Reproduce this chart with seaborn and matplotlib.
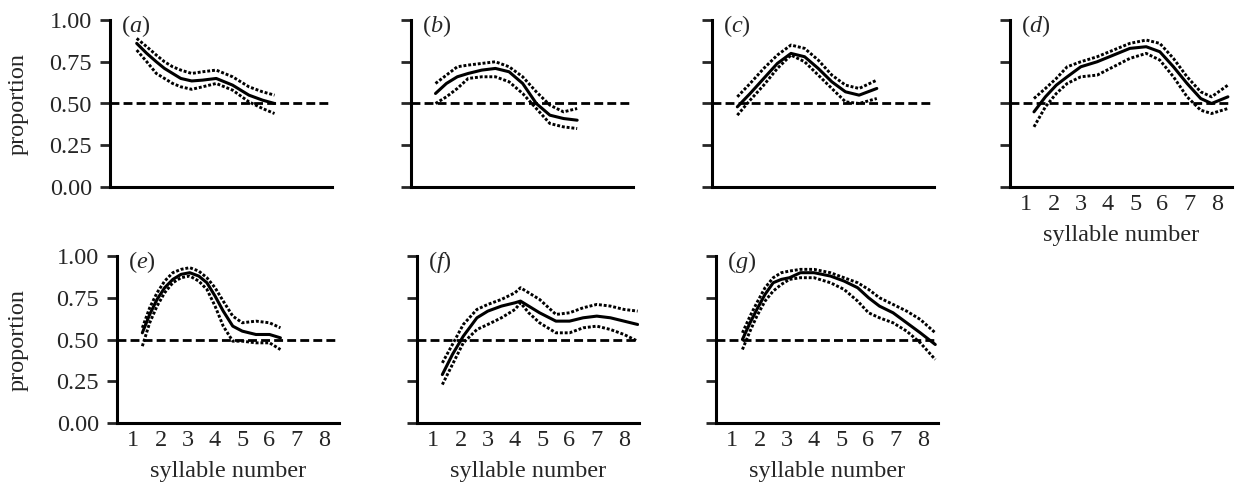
import numpy as np
import pandas as pd
import matplotlib
matplotlib.use("Agg")
import matplotlib.pyplot as plt
import seaborn as sns

# values, one set per panel (a)-(g)
a_x = [1.38, 1.75, 2.1, 2.4, 2.7, 3.0, 3.4, 3.8, 4.3, 4.9, 5.5, 6.0, 6.44]
a_mean = [0.86, 0.80, 0.75, 0.71, 0.68, 0.65, 0.635, 0.64, 0.65, 0.61, 0.55, 0.52, 0.50]
a_hi = [0.89, 0.84, 0.79, 0.75, 0.72, 0.70, 0.68, 0.69, 0.70, 0.66, 0.60, 0.57, 0.55]
a_lo = [0.82, 0.75, 0.68, 0.65, 0.62, 0.60, 0.585, 0.60, 0.62, 0.58, 0.51, 0.47, 0.44]

b_x = [1.3, 1.7, 2.1, 2.5, 3.0, 3.5, 4.0, 4.5, 5.0, 5.5, 6.0, 6.5]
b_mean = [0.56, 0.62, 0.66, 0.68, 0.70, 0.71, 0.69, 0.62, 0.50, 0.43, 0.41, 0.40]
b_hi = [0.62, 0.67, 0.72, 0.73, 0.74, 0.75, 0.72, 0.66, 0.57, 0.49, 0.45, 0.47]
b_lo = [0.50, 0.54, 0.59, 0.65, 0.66, 0.66, 0.63, 0.56, 0.47, 0.38, 0.36, 0.35]

c_x = [1.33, 1.8, 2.3, 2.8, 3.3, 3.8, 4.3, 4.8, 5.3, 5.8, 6.45]
c_mean = [0.48, 0.56, 0.65, 0.74, 0.80, 0.78, 0.71, 0.63, 0.57, 0.55, 0.59]
c_hi = [0.54, 0.62, 0.71, 0.79, 0.85, 0.83, 0.76, 0.67, 0.61, 0.59, 0.64]
c_lo = [0.43, 0.52, 0.61, 0.71, 0.79, 0.75, 0.67, 0.59, 0.51, 0.50, 0.53]

d_x = [1.28, 1.7, 2.1, 2.5, 3.0, 3.6, 4.2, 4.8, 5.4, 5.9, 6.4, 6.9, 7.4, 7.8, 8.4]
d_mean = [0.45, 0.54, 0.61, 0.66, 0.72, 0.75, 0.79, 0.83, 0.84, 0.81, 0.72, 0.62, 0.53, 0.50, 0.54]
d_hi = [0.53, 0.59, 0.65, 0.72, 0.75, 0.78, 0.82, 0.86, 0.88, 0.86, 0.77, 0.66, 0.57, 0.54, 0.61]
d_lo = [0.36, 0.48, 0.56, 0.62, 0.66, 0.67, 0.72, 0.77, 0.80, 0.76, 0.66, 0.54, 0.46, 0.44, 0.47]

e_x = [1.33, 1.6, 1.87, 2.15, 2.45, 2.75, 3.07, 3.4, 3.7, 4.0, 4.3, 4.65, 5.0, 5.5, 6.0, 6.4]
e_mean = [0.54, 0.65, 0.74, 0.81, 0.86, 0.89, 0.90, 0.88, 0.84, 0.76, 0.67, 0.58, 0.55, 0.53, 0.53, 0.51]
e_hi = [0.57, 0.69, 0.78, 0.85, 0.90, 0.92, 0.93, 0.91, 0.87, 0.81, 0.73, 0.64, 0.60, 0.61, 0.60, 0.57]
e_lo = [0.46, 0.60, 0.70, 0.78, 0.84, 0.87, 0.88, 0.85, 0.80, 0.70, 0.58, 0.49, 0.49, 0.48, 0.48, 0.44]

f_x = [1.33, 1.7, 2.1, 2.6, 3.0, 3.5, 4.0, 4.2, 4.5, 4.9, 5.5, 6.0, 6.5, 7.0, 7.5, 8.0, 8.5]
f_mean = [0.29, 0.41, 0.52, 0.63, 0.67, 0.70, 0.72, 0.73, 0.70, 0.66, 0.61, 0.61, 0.63, 0.64, 0.63, 0.61, 0.59]
f_hi = [0.36, 0.47, 0.59, 0.68, 0.71, 0.74, 0.78, 0.81, 0.78, 0.74, 0.65, 0.66, 0.69, 0.71, 0.70, 0.68, 0.67]
f_lo = [0.23, 0.35, 0.48, 0.56, 0.59, 0.63, 0.68, 0.72, 0.66, 0.60, 0.54, 0.54, 0.57, 0.58, 0.56, 0.53, 0.49]

g_x = [1.37, 1.65, 1.9, 2.2, 2.5, 2.8, 3.1, 3.5, 4.0, 4.6, 5.1, 5.6, 6.0, 6.4, 6.9, 7.4, 7.9, 8.45]
g_mean = [0.50, 0.60, 0.68, 0.77, 0.84, 0.86, 0.87, 0.90, 0.90, 0.88, 0.85, 0.81, 0.75, 0.70, 0.66, 0.60, 0.54, 0.47]
g_hi = [0.54, 0.64, 0.72, 0.81, 0.87, 0.90, 0.91, 0.92, 0.92, 0.90, 0.87, 0.84, 0.80, 0.75, 0.71, 0.67, 0.62, 0.54]
g_lo = [0.44, 0.55, 0.64, 0.73, 0.79, 0.83, 0.86, 0.87, 0.87, 0.84, 0.80, 0.73, 0.66, 0.63, 0.60, 0.55, 0.48, 0.38]

y_ticks = [0.0, 0.25, 0.5, 0.75, 1.0]
y_ticklabels = ["0.00", "0.25", "0.50", "0.75", "1.00"]
x_ticks = [1, 2, 3, 4, 5, 6, 7, 8]

AX_W = 222


def draw_panel(ax, left_px, x, mean, hi, lo, letter, ylabels, xlabels):
    df = pd.DataFrame({"x": x, "mean": mean, "hi": hi, "lo": lo})
    ax.axhline(0.5, color="black", lw=2.0, ls=(0, (3.2, 1.5)), zorder=1)
    sns.lineplot(data=df, x="x", y="hi", ax=ax, color="black", lw=2.1,
                 ls=(0, (1, 0.65)), legend=False)
    sns.lineplot(data=df, x="x", y="lo", ax=ax, color="black", lw=2.1,
                 ls=(0, (1, 0.65)), legend=False)
    sns.lineplot(data=df, x="x", y="mean", ax=ax, color="black", lw=2.2,
                 legend=False)
    ax.set_xlim(0.4, 8.55)
    ax.set_ylim(0, 1)
    ax.set_yticks(y_ticks)
    ax.set_xticks(x_ticks)
    ax.tick_params(axis="y", length=7, width=2.0, pad=6)
    ax.tick_params(axis="x", length=0, pad=5)
    if ylabels:
        ax.set_yticklabels(y_ticklabels)
        ax.set_ylabel("proportion")
        ax.yaxis.set_label_coords((29 - left_px) / AX_W, 0.5)
    else:
        ax.set_yticklabels([])
        ax.set_ylabel("")
    if xlabels:
        ax.set_xticklabels([str(t) for t in x_ticks])
        ax.set_xlabel("syllable number", labelpad=7)
    else:
        ax.set_xticklabels([])
        ax.set_xlabel("")
    ax.text(0.05, 1.04, "($\\mathit{" + letter + "}$)", transform=ax.transAxes,
            va="top", ha="left")
    for s in ["left", "bottom"]:
        ax.spines[s].set_linewidth(2.2)
        ax.spines[s].set_color("black")
    sns.despine(ax=ax)


def main():
    sns.set_style("ticks")
    plt.rcParams["font.family"] = ["Liberation Serif", "DejaVu Serif"]
    plt.rcParams["mathtext.fontset"] = "custom"
    plt.rcParams["mathtext.rm"] = "Liberation Serif"
    plt.rcParams["mathtext.it"] = "Liberation Serif:italic"
    plt.rcParams["font.size"] = 17.5

    W, H = 1237, 490
    fig = plt.figure(figsize=(W / 100, H / 100), dpi=100)

    panels = [
        (110, 20, 187, a_x, a_mean, a_hi, a_lo, "a", True, False),
        (411, 20, 187, b_x, b_mean, b_hi, b_lo, "b", False, False),
        (712, 20, 187, c_x, c_mean, c_hi, c_lo, "c", False, False),
        (1010, 20, 187, d_x, d_mean, d_hi, d_lo, "d", False, True),
        (117, 256, 423, e_x, e_mean, e_hi, e_lo, "e", True, True),
        (417, 256, 423, f_x, f_mean, f_hi, f_lo, "f", False, True),
        (716, 256, 423, g_x, g_mean, g_hi, g_lo, "g", False, True),
    ]
    for left, top, bottom, x, m, hi, lo, letter, yl, xl in panels:
        ax = fig.add_axes([left / W, 1 - bottom / H, AX_W / W, (bottom - top) / H])
        draw_panel(ax, left, x, m, hi, lo, letter, yl, xl)

    fig.savefig("out.png", dpi=100)


if __name__ == "__main__":
    main()
